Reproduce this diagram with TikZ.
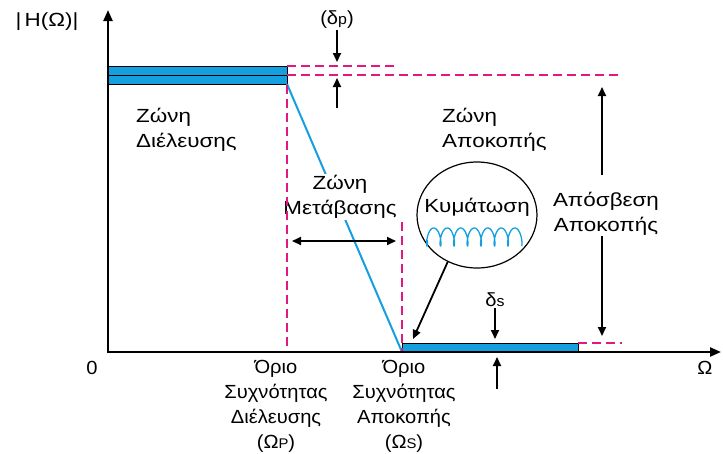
\documentclass[tikz,border=0pt]{standalone}
\usepackage{fontspec}
\setmainfont{Liberation Sans}
\newfontfamily\widefont[FakeStretch=1.18]{Liberation Sans}
\newfontfamily\midfont[FakeStretch=1.06]{Liberation Sans}
\usetikzlibrary{arrows.meta,shapes.geometric}
\definecolor{fblue}{RGB}{20,160,222}
\definecolor{fpink}{RGB}{226,24,128}
\begin{document}
\begin{tikzpicture}[x=1pt,y=-1pt,
  lbl/.style={font=\midfont\fontsize{19}{25}\selectfont, inner sep=1pt, align=center},
  wlbl/.style={font=\widefont\fontsize{19}{25}\selectfont, inner sep=1pt, align=center},
  wlbll/.style={wlbl, align=left, anchor=west},
  axisline/.style={line width=2.2pt, {Triangle[length=11pt,width=9pt]}-{Triangle[length=11pt,width=9pt]}},
  arr/.style={line width=1.8pt, -{Triangle[length=9pt,width=8pt]}},
  darr/.style={line width=1.8pt, {Triangle[length=9pt,width=8pt]}-{Triangle[length=9pt,width=8pt]}},
  pinkdash/.style={fpink, line width=2.2pt, dash pattern=on 9pt off 5pt},
  bandbox/.style={fill=fblue, draw=black, line width=1pt},
  respline/.style={fblue, line width=2pt},
  ripple/.style={fblue, line width=1.3pt}
]
\useasboundingbox (0,0) rectangle (723,453);

% coordinates
\coordinate (O) at (108,352);
\coordinate (ytip) at (108,10);
\coordinate (xtip) at (721,352);
\coordinate (pbtop) at (287,84);
\coordinate (sbstart) at (402,352);

% pass band boxes
\draw[bandbox] (108,66) rectangle (287,75);
\draw[bandbox] (108,75) rectangle (287,84);

% transition line
\draw[respline] (pbtop) -- (sbstart);

% transition text (covers the line)
\node[wlbl, fill=white] (trans) at (340,197) {Ζώνη\\Μετάβασης};

% stop band box
\draw[bandbox] (402,343) rectangle (578,352);

% pink dashed lines
\draw[pinkdash] (287,66) -- (397,66);
\draw[pinkdash] (287,75) -- (620,75);
\draw[pinkdash] (287,85) -- (287,352);
\draw[pinkdash] (402,222) -- (402,352);
\draw[pinkdash] (578,343) -- (622,343);

% axes
\draw[axisline] (ytip) -- (O) -- (xtip);

% labels
\node[wlbl] (H) at (47,22) {|\,H(Ω)|};
\node[lbl] (zero) at (92,368) {0};
\node[lbl] (omega) at (705,368) {Ω};

\node[wlbll] (pass) at (135,130) {Ζώνη\\Διέλευσης};
\node[wlbll] (stop) at (441,130) {Ζώνη\\Αποκοπής};

% delta p
\node[lbl] (dp) at (337,20) {(δ{\fontsize{15}{15}\selectfont p})};
\coordinate (dpa) at (337,62);
\coordinate (dpb0) at (337,108);
\coordinate (dpb) at (337,78);
\draw[arr] (dp.south) -- (dpa);
\draw[arr] (dpb0) -- (dpb);

% attenuation
\node[wlbl] (att) at (606,214) {Απόσβεση\\Αποκοπής};
\coordinate (atta0) at (602,175);
\coordinate (atta) at (602,87);
\coordinate (attb0) at (602,236);
\coordinate (attb) at (602,336);
\draw[arr] (atta0) -- (atta);
\draw[arr] (attb0) -- (attb);

% transition arrow
\coordinate (tl) at (292,241);
\coordinate (tr) at (396,241);
\draw[darr] (tl) -- (tr);

% ripple circle
\node[draw, ellipse, minimum width=120pt, minimum height=106pt, line width=1.2pt] (circ) at (477,215) {};
\node[wlbl] (kym) at (477,207) {Κυμάτωση};
\draw[ripple, domain=-1.2:43.98, samples=320, smooth, variable=\t]
  plot ({427 + 2.15*\t - 3*sin(\t r)}, {237 + 9*cos(\t r)});
\coordinate (rip) at (413,339);
\draw[arr] (circ.238) -- (rip);

% delta s
\node[lbl] (ds) at (495,300) {δ{\fontsize{15}{15}\selectfont s}};
\coordinate (dsa) at (495,339);
\draw[arr] (ds.south) -- (dsa);
\coordinate (dsb0) at (497,389);
\coordinate (dsb) at (497,357);
\draw[arr] (dsb0) -- (dsb);

% bottom labels
\node[lbl] (wp) at (276,406) {Όριο\\Συχνότητας\\Διέλευσης\\(Ω{\fontsize{14}{14}\selectfont P})};
\node[lbl] (ws) at (404,406) {Όριο\\Συχνότητας\\Αποκοπής\\(Ω{\fontsize{14}{14}\selectfont S})};
\end{tikzpicture}
\end{document}
